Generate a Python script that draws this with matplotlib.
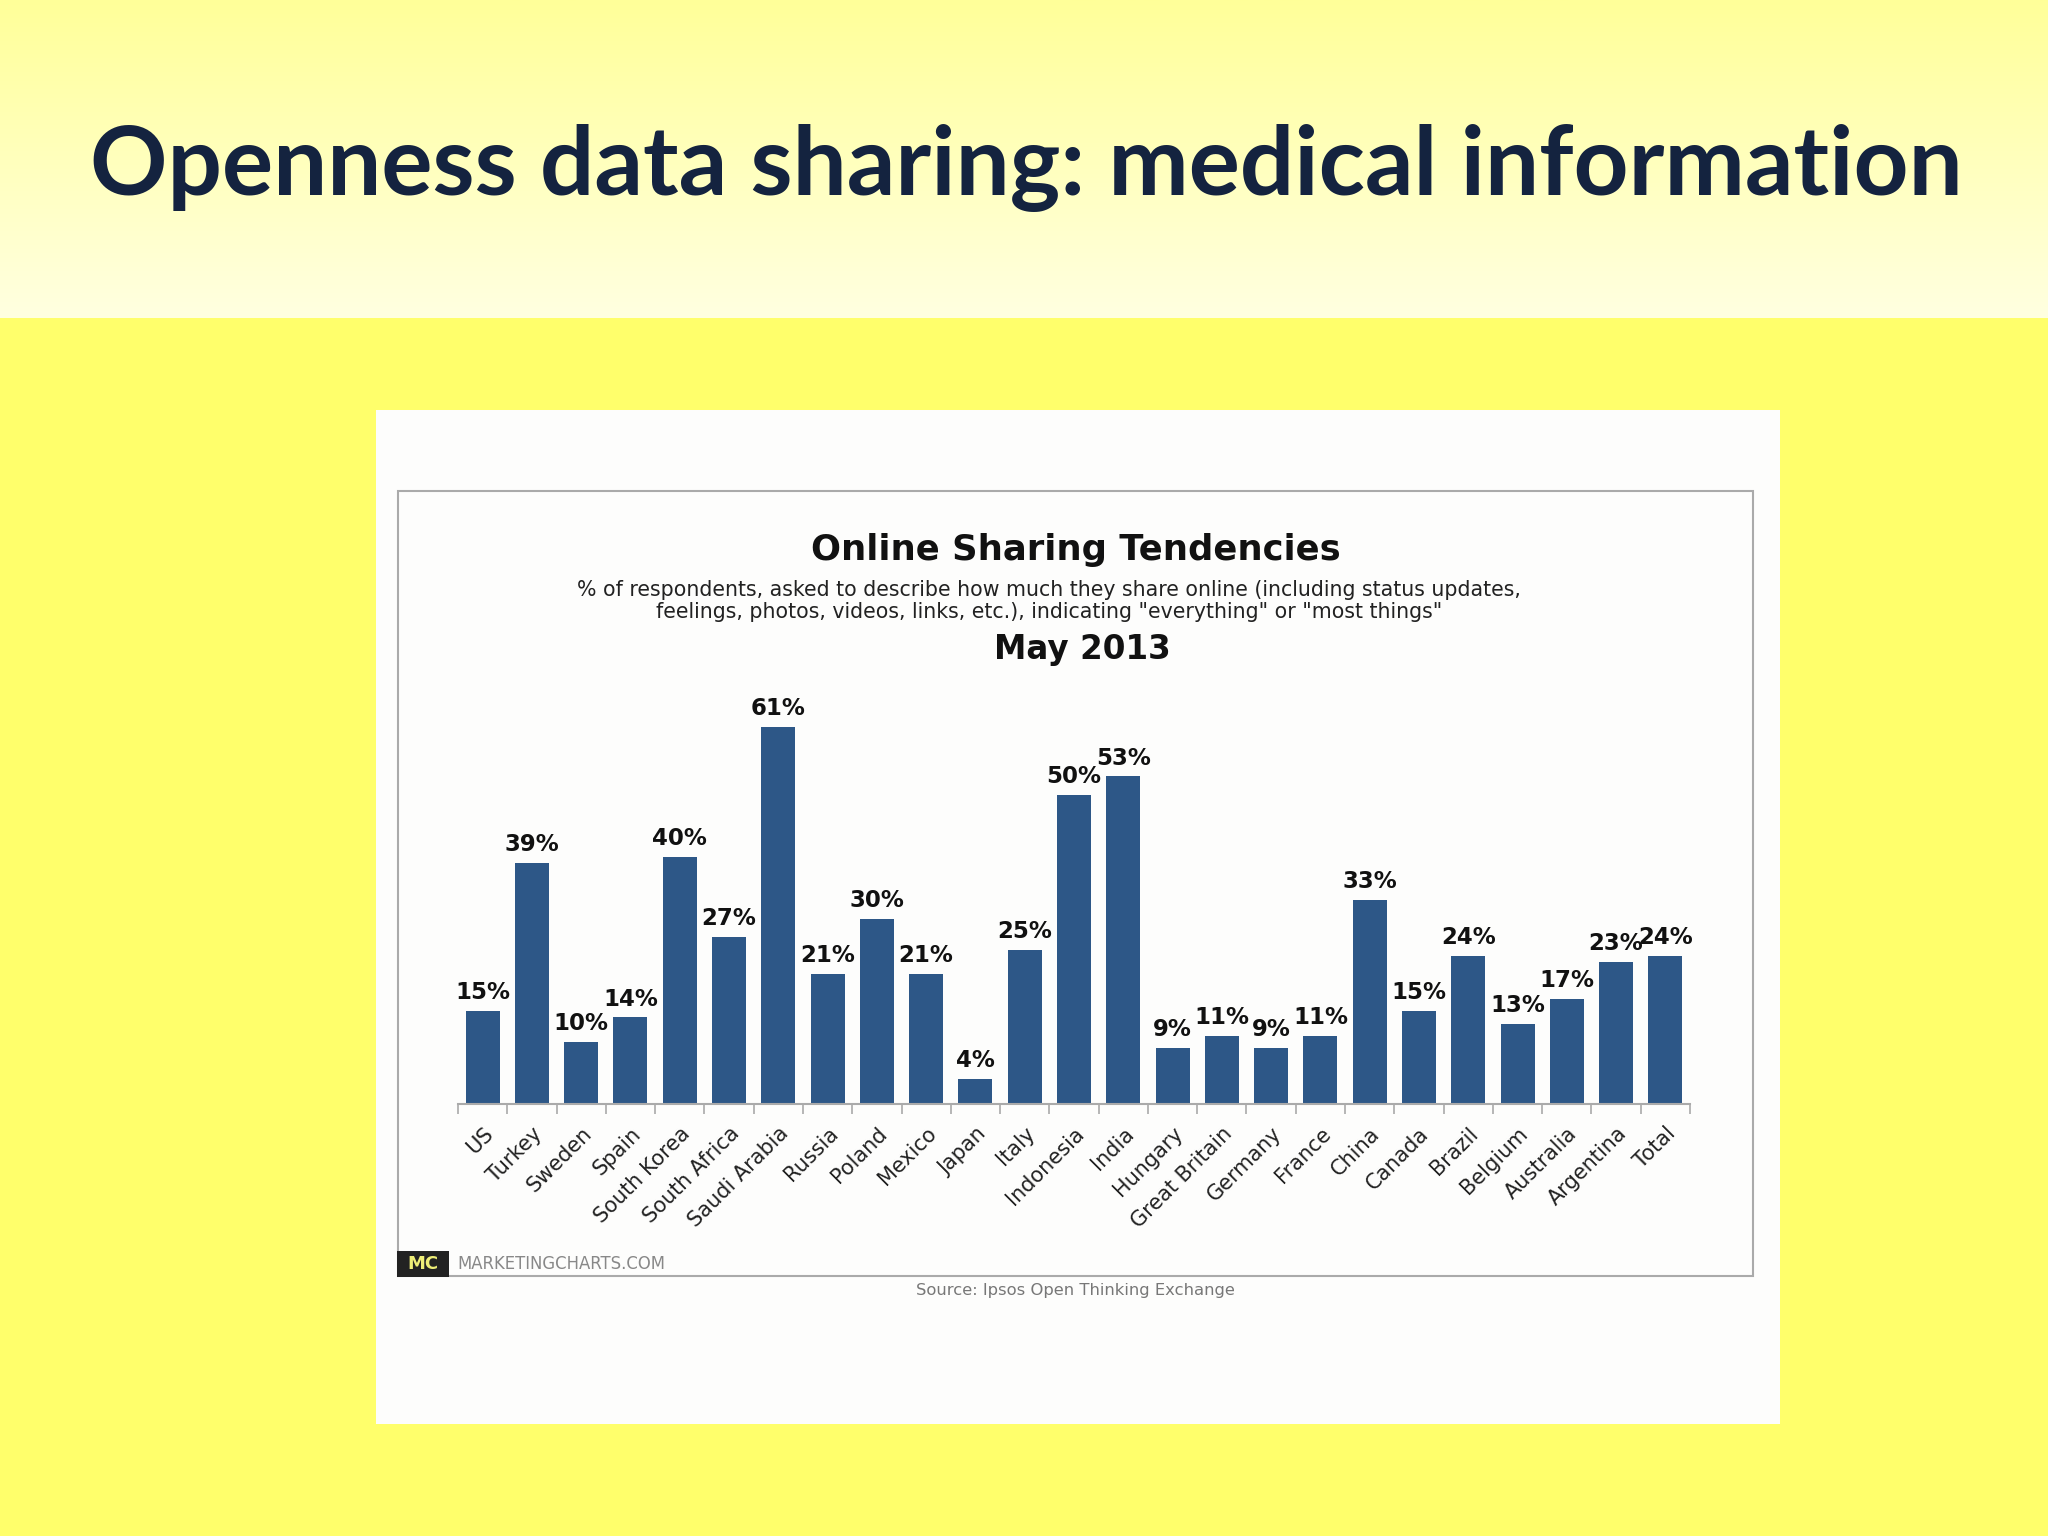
import numpy as np
import matplotlib
matplotlib.use("Agg")
import matplotlib.pyplot as plt
from matplotlib.patches import Rectangle

# data
countries = ["US", "Turkey", "Sweden", "Spain", "South Korea", "South Africa",
             "Saudi Arabia", "Russia", "Poland", "Mexico", "Japan", "Italy",
             "Indonesia", "India", "Hungary", "Great Britain", "Germany",
             "France", "China", "Canada", "Brazil", "Belgium", "Australia",
             "Argentina", "Total"]
share_pct = [15, 39, 10, 14, 40, 27, 61, 21, 30, 21, 4, 25, 50, 53, 9, 11, 9,
             11, 33, 15, 24, 13, 17, 23, 24]

slide_title = "Openness data sharing: medical information"
chart_title = "Online Sharing Tendencies"
chart_sub = ('% of respondents, asked to describe how much they share online (including status updates,\n'
             'feelings, photos, videos, links, etc.), indicating "everything" or "most things"')
chart_date = "May 2013"
source_txt = "Source: Ipsos Open Thinking Exchange"

W, H = 2048, 1536
bar_col = "#2d5787"

fig = plt.figure(figsize=(W / 100, H / 100), dpi=100)
fig.patch.set_facecolor("#ffff6b")

# background layer in pixel coordinates (y down)
bg = fig.add_axes([0, 0, 1, 1], zorder=0)
bg.axis("off")

top = np.array([1.0, 1.0, 0.60])
bot = np.array([1.0, 1.0, 0.88])
t = np.linspace(0, 1, 256)[:, None, None]
grad = top * (1 - t) + bot * t
bg.imshow(grad, extent=[0, W, 318, 0], aspect="auto", zorder=0)
bg.set_xlim(0, W)
bg.set_ylim(H, 0)

bg.text(W / 2 + 2, 168, slide_title, ha="center", va="center",
        fontsize=69, fontweight="bold", family="Lato", color="#14233f")

# white card and inner frame
bg.add_patch(Rectangle((376, 410), 1404, 1014, facecolor="#fdfdfc",
                       edgecolor="none", zorder=1))
bg.add_patch(Rectangle((398, 491), 1355, 785, facecolor="none",
                       edgecolor="#aaaaaa", lw=1.5, zorder=2))

bg.text(1076, 550, chart_title, ha="center", va="center", fontsize=25.5,
        fontweight="bold", color="#111111", zorder=3)
bg.text(1049, 601, chart_sub, ha="center", va="center", fontsize=14.8,
        color="#222222", linespacing=1.15, zorder=3)
bg.text(1082, 650, chart_date, ha="center", va="center", fontsize=23.5,
        fontweight="bold", color="#111111", zorder=3)

# MC logo + footer
bg.add_patch(Rectangle((397, 1251), 52, 26, facecolor="#222222",
                       edgecolor="none", zorder=3))
bg.text(423, 1264, "MC", ha="center", va="center", fontsize=13,
        fontweight="bold", color="#eeee77", zorder=4)
bg.text(457, 1264, "MARKETINGCHARTS.COM", ha="left", va="center",
        fontsize=11.9, color="#888888", zorder=4)
bg.text(1075, 1290, source_txt, ha="center", va="center", fontsize=11.8,
        color="#777777", zorder=4)

# bar chart
x0, x1, base = 458, 1690, 1104
px_per_pct = 6.18
ymax = 70
ax = fig.add_axes([x0 / W, 1 - base / H, (x1 - x0) / W,
                   px_per_pct * ymax / H], zorder=2)
ax.patch.set_alpha(0)
x = np.arange(len(countries))
bars = ax.bar(x, share_pct, width=0.69, color=bar_col, zorder=2)
ax.set_xlim(-0.5, len(countries) - 0.5)
ax.set_ylim(0, ymax)

for rect, v in zip(bars, share_pct):
    ax.annotate(f"{v}%", (rect.get_x() + rect.get_width() / 2, v),
                xytext=(0, 5), textcoords="offset points", ha="center",
                va="bottom", fontsize=16.5, fontweight="bold", color="#111111")

for s in ["top", "right", "left"]:
    ax.spines[s].set_visible(False)
ax.spines["bottom"].set_color("#aaaaaa")
ax.spines["bottom"].set_linewidth(1.5)
ax.set_yticks([])
ax.set_xticks(x)
ax.set_xticklabels(countries, rotation=45, ha="right", rotation_mode="anchor",
                   fontsize=15, color="#222222")
ax.tick_params(axis="x", which="major", length=0, pad=14)
ax.set_xticks(np.arange(-0.5, len(countries)), minor=True)
ax.tick_params(axis="x", which="minor", length=7, width=1.2, color="#aaaaaa")

fig.savefig("out.png", dpi=100, facecolor=fig.get_facecolor())
